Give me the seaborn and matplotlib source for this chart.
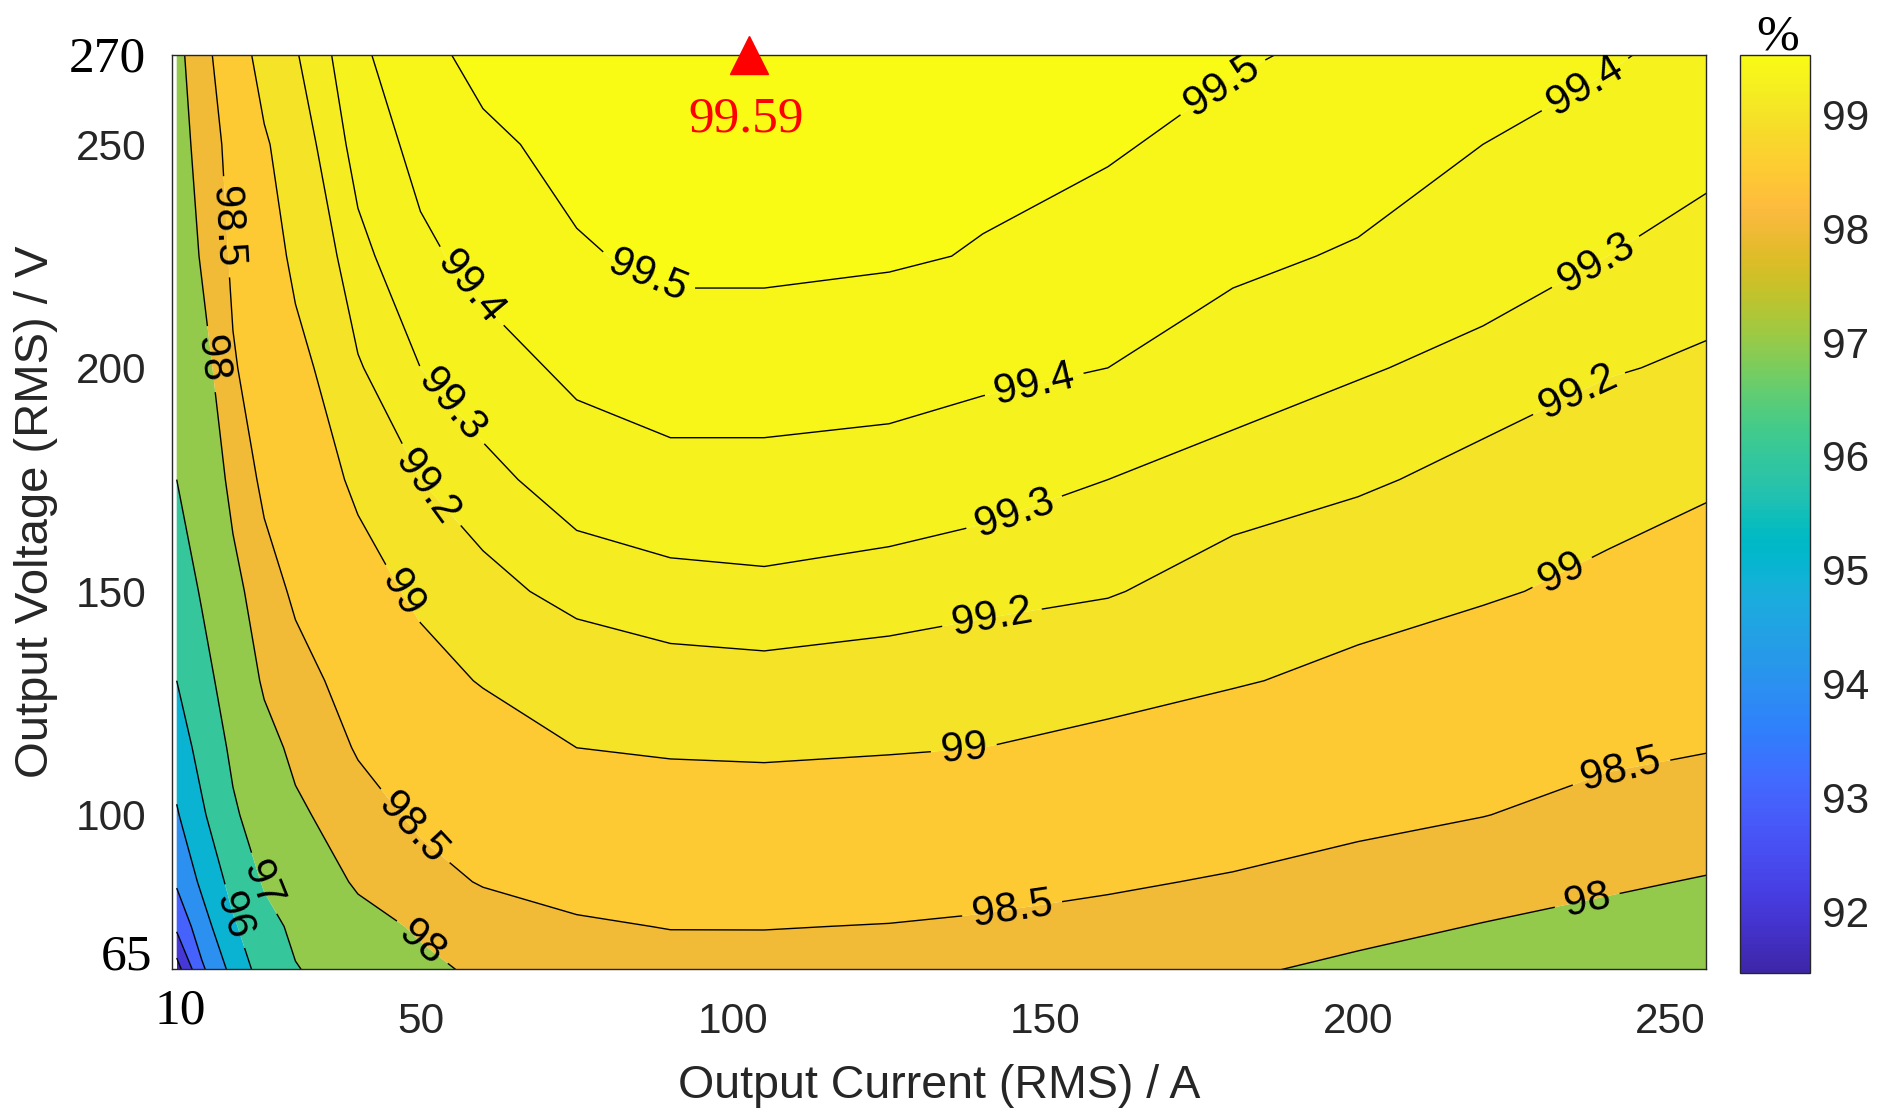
import numpy as np
import matplotlib
matplotlib.use("Agg")
import matplotlib.pyplot as plt
import seaborn as sns
from matplotlib.colors import LinearSegmentedColormap, Normalize
from matplotlib.cm import ScalarMappable

# ---------------- data ----------------
CURRENT_A = [11, 15, 20, 25, 30, 40, 50, 60, 75, 90, 105, 125, 140, 160, 180, 200, 220, 240, 256]
VOLTAGE_V = [65, 75, 85, 100, 115, 130, 150, 175, 200, 225, 250, 270]

EFF_065V = [91.5, 93.8, 95.28, 96.45, 96.95, 97.4, 97.85, 98.1, 98.28, 98.37, 98.38, 98.35, 98.32, 98.2, 98.05, 97.9, 97.78, 97.68, 97.6]
EFF_075V = [93.2, 94.57, 95.88, 96.7, 97.17, 97.76, 98.08, 98.28, 98.46, 98.51, 98.51, 98.49, 98.46, 98.4, 98.25, 98.12, 97.98, 97.87, 97.8]
EFF_085V = [94.13, 95.18, 96.31, 97.09, 97.48, 98.09, 98.35, 98.53, 98.61, 98.65, 98.65, 98.63, 98.6, 98.54, 98.47, 98.35, 98.2, 98.06, 97.97]
EFF_100V = [94.91, 95.86, 96.88, 97.43, 97.89, 98.32, 98.58, 98.7, 98.79, 98.85, 98.86, 98.83, 98.8, 98.74, 98.67, 98.6, 98.51, 98.36, 98.26]
EFF_115V = [95.48, 96.32, 97.17, 97.77, 98.14, 98.54, 98.7, 98.84, 99.0, 99.03, 99.04, 99.02, 99.0, 98.94, 98.85, 98.77, 98.67, 98.58, 98.52]
EFF_130V = [96.0, 96.67, 97.46, 98.09, 98.35, 98.67, 98.89, 99.02, 99.11, 99.15, 99.16, 99.14, 99.11, 99.08, 99.02, 98.94, 98.84, 98.74, 98.66]
EFF_150V = [96.46, 97.08, 97.82, 98.31, 98.57, 98.87, 99.06, 99.16, 99.24, 99.27, 99.28, 99.26, 99.24, 99.21, 99.14, 99.09, 99.03, 98.94, 98.84]
EFF_175V = [97.0, 97.47, 98.17, 98.6, 98.78, 99.06, 99.2, 99.27, 99.35, 99.37, 99.37, 99.36, 99.34, 99.3, 99.26, 99.22, 99.16, 99.1, 99.04]
EFF_200V = [97.28, 97.76, 98.46, 98.72, 98.92, 99.19, 99.3, 99.36, 99.42, 99.45, 99.45, 99.44, 99.42, 99.4, 99.35, 99.31, 99.27, 99.21, 99.18]
EFF_225V = [97.5, 98.06, 98.58, 98.85, 99.06, 99.27, 99.38, 99.43, 99.49, 99.52, 99.52, 99.51, 99.495, 99.46, 99.42, 99.39, 99.35, 99.3, 99.26]
EFF_250V = [97.7, 98.23, 98.65, 98.97, 99.13, 99.34, 99.43, 99.48, 99.53, 99.56, 99.56, 99.54, 99.52, 99.51, 99.47, 99.45, 99.4, 99.36, 99.33]
EFF_270V = [97.85, 98.32, 98.85, 99.1, 99.19, 99.38, 99.47, 99.53, 99.56, 99.585, 99.59, 99.57, 99.55, 99.53, 99.51, 99.48, 99.44, 99.41, 99.37]

LEVELS = [92, 93, 94, 95, 96, 97, 98, 98.5, 99, 99.2, 99.3, 99.4, 99.5]
PEAK_CURRENT = 102.6
PEAK_VOLTAGE = 270
PEAK_EFF = 99.59
X_TICKS = [50, 100, 150, 200, 250]
Y_TICKS = [100, 150, 200, 250]
CBAR_TICKS = [92, 93, 94, 95, 96, 97, 98, 99]
CLIM = (91.46, 99.52)

# where the inline contour labels sit (layout)
LABEL_POS = [
    (86.2, 220.2), (178.2, 263.2),
    (55.6, 215.4), (148.5, 194.5), (235.7, 265.0),
    (53.6, 190.0), (145.6, 165.3), (237.6, 224.8),
    (48.8, 170.4), (141.8, 141.1), (235.7, 193.4),
    (44.4, 147.1), (137.0, 114.1), (233.8, 151.1),
    (18.2, 231.5), (46.9, 94.8), (144.7, 78.7), (242.4, 107.6),
    (16.8, 202.0), (49.8, 70.6), (236.7, 80.8),
    (23.5, 83.9), (20.0, 77.2),
]

# MATLAB parula (64)
PARULA = [
    (0.2422, 0.1504, 0.6603), (0.2504, 0.1650, 0.7076), (0.2578, 0.1818, 0.7511), (0.2647, 0.1978, 0.7952),
    (0.2706, 0.2147, 0.8364), (0.2751, 0.2342, 0.8710), (0.2783, 0.2559, 0.8991), (0.2803, 0.2782, 0.9221),
    (0.2813, 0.3006, 0.9414), (0.2810, 0.3228, 0.9579), (0.2795, 0.3447, 0.9717), (0.2760, 0.3667, 0.9829),
    (0.2699, 0.3892, 0.9906), (0.2602, 0.4123, 0.9952), (0.2440, 0.4358, 0.9988), (0.2206, 0.4603, 0.9973),
    (0.1963, 0.4847, 0.9892), (0.1834, 0.5074, 0.9798), (0.1786, 0.5289, 0.9682), (0.1764, 0.5499, 0.9520),
    (0.1687, 0.5703, 0.9359), (0.1540, 0.5902, 0.9218), (0.1460, 0.6091, 0.9079), (0.1380, 0.6276, 0.8973),
    (0.1248, 0.6459, 0.8883), (0.1113, 0.6635, 0.8763), (0.0952, 0.6798, 0.8598), (0.0689, 0.6948, 0.8394),
    (0.0297, 0.7082, 0.8163), (0.0036, 0.7203, 0.7917), (0.0067, 0.7312, 0.7660), (0.0433, 0.7411, 0.7394),
    (0.0964, 0.7500, 0.7120), (0.1408, 0.7584, 0.6842), (0.1717, 0.7670, 0.6554), (0.1938, 0.7758, 0.6251),
    (0.2161, 0.7843, 0.5923), (0.2470, 0.7918, 0.5567), (0.2906, 0.7973, 0.5188), (0.3406, 0.8008, 0.4789),
    (0.3909, 0.8029, 0.4354), (0.4456, 0.8024, 0.3909), (0.5044, 0.7993, 0.3480), (0.5616, 0.7942, 0.3045),
    (0.6174, 0.7876, 0.2612), (0.6720, 0.7793, 0.2227), (0.7242, 0.7698, 0.1910), (0.7738, 0.7598, 0.1646),
    (0.8203, 0.7498, 0.1535), (0.8634, 0.7406, 0.1596), (0.9035, 0.7330, 0.1774), (0.9393, 0.7288, 0.2100),
    (0.9728, 0.7298, 0.2394), (0.9956, 0.7434, 0.2371), (0.9970, 0.7659, 0.2199), (0.9952, 0.7893, 0.2028),
    (0.9892, 0.8136, 0.1885), (0.9786, 0.8386, 0.1766), (0.9676, 0.8639, 0.1643), (0.9610, 0.8890, 0.1537),
    (0.9597, 0.9135, 0.1423), (0.9628, 0.9373, 0.1265), (0.9691, 0.9606, 0.1064), (0.9769, 0.9839, 0.0805),
]

# ---------------- style ----------------
sns.set_theme(style="white")
plt.rcParams["font.family"] = ["Liberation Sans", "DejaVu Sans"]
DARK = "#262626"
SERIF = ["Liberation Serif", "DejaVu Serif"]

W, H = 1878, 1112
fig = plt.figure(figsize=(W / 100, H / 100), dpi=100)
fig.patch.set_facecolor("white")


def fx(px):
    return px / W


def fy(py):
    return 1 - py / H


AX_L, AX_R, AX_T, AX_B = 171.7, 1706, 55, 969
ax = fig.add_axes([fx(AX_L), fy(AX_B), fx(AX_R) - fx(AX_L), fy(AX_T) - fy(AX_B)])
ax.set_facecolor("white")

Z = np.array([EFF_065V, EFF_075V, EFF_085V, EFF_100V, EFF_115V, EFF_130V,
              EFF_150V, EFF_175V, EFF_200V, EFF_225V, EFF_250V, EFF_270V])

cmap = LinearSegmentedColormap.from_list("parula", PARULA, N=256)
norm = Normalize(*CLIM)
fill_levels = [Z.min() - 0.01] + LEVELS + [Z.max() + 0.01]
band_colors = [cmap(norm(max(l, CLIM[0]))) for l in fill_levels[:-1]]

ax.contourf(CURRENT_A, VOLTAGE_V, Z, levels=fill_levels, colors=band_colors, antialiased=True)
cs = ax.contour(CURRENT_A, VOLTAGE_V, Z, levels=LEVELS, colors="black", linewidths=1.0)
ax.clabel(cs, fmt="%g", fontsize=30, manual=LABEL_POS, inline=True, inline_spacing=10)

ax.set_xlim(10.2, 255.7)
ax.set_ylim(65.5, 270)
ax.set_xticks(X_TICKS)
ax.set_yticks(Y_TICKS)
ax.tick_params(direction="in", length=11, width=1, labelsize=30.5, top=True, right=True,
               color=DARK, labelcolor=DARK)
ax.tick_params(axis="x", pad=24)
ax.tick_params(axis="y", pad=18)
for s in ax.spines.values():
    s.set_edgecolor(DARK)
    s.set_linewidth(1.0)
    s.set_visible(True)

ax.set_xlabel("Output Current (RMS) / A", fontsize=33.5, color=DARK, va="center")
ax.xaxis.set_label_coords(0.5, -(1086 - AX_B) / (AX_B - AX_T))
ax.set_ylabel("Output Voltage (RMS) / V", fontsize=34, color=DARK, va="center")
ax.yaxis.set_label_coords(-(AX_L - 36) / (AX_R - AX_L), 0.5)

# Times-style end labels
fig.text(fx(146), fy(71.7), "270", ha="right", va="baseline", fontsize=37, family=SERIF, color="black")
fig.text(fx(152), fy(969), "65", ha="right", va="baseline", fontsize=37, family=SERIF, color="black")
fig.text(fx(180), fy(1023), "10", ha="center", va="baseline", fontsize=37, family=SERIF, color="black")

# peak marker
ax.plot([PEAK_CURRENT], [PEAK_VOLTAGE], marker="^", markersize=27, color="red",
        linestyle="none", clip_on=False, zorder=10)
ax.annotate(f"{PEAK_EFF:.2f}", xy=(PEAK_CURRENT, PEAK_VOLTAGE), xytext=(-3, -77),
            textcoords="offset pixels", ha="center", va="baseline", fontsize=37,
            family=SERIF, color="red", annotation_clip=False)

# colorbar
cax = fig.add_axes([fx(1740), fy(973), fx(1810) - fx(1740), fy(55) - fy(973)])
cb = fig.colorbar(ScalarMappable(norm=norm, cmap=cmap), cax=cax, ticks=CBAR_TICKS)
cb.outline.set_edgecolor(DARK)
cb.outline.set_linewidth(1.0)
cax.tick_params(direction="in", length=7, width=1, labelsize=30.5, pad=9, right=True, left=False,
                color=DARK, labelcolor=DARK)
fig.text(fx(1778), fy(50), "%", ha="center", va="baseline", fontsize=37, family=SERIF, color="black")

fig.savefig("out.png", dpi=100)
